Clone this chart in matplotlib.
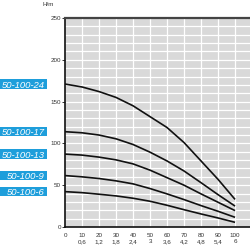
import matplotlib
matplotlib.use('Agg')
import matplotlib.pyplot as plt
from matplotlib.patches import Rectangle
from matplotlib.transforms import blended_transform_factory

# flow (x axis, upper row) and the second row of tick labels
flow = [0, 10, 20, 30, 40, 50, 60, 70, 80, 90, 100]
flow_row2 = ['', '0,6', '1,2', '1,8', '2,4', '3', '3,6', '4,2', '4,8', '5,4', '6']

# head curves H/m read at each flow step
names = ['50-100-24', '50-100-17', '50-100-13', '50-100-9', '50-100-6']
head_24 = [171, 167.5, 162, 155, 145, 132, 119, 101, 79, 57, 33]
head_17 = [114, 112.7, 110, 105.5, 98.7, 89.5, 79, 67, 53, 38.7, 25]
head_13 = [87.2, 86, 83.6, 80.3, 75.5, 68, 59, 50, 39.6, 29.6, 19.6]
head_9 = [61.5, 60, 58, 55.2, 51.6, 46, 39.6, 32.8, 25.6, 18.8, 11.6]
head_6 = [42.3, 41.1, 39.2, 37.2, 34.4, 30.8, 26, 20.7, 15.6, 10.8, 5.6]
heads = [head_24, head_17, head_13, head_9, head_6]

y_ticks = [0, 50, 100, 150, 200, 250]

plt.rcParams['font.family'] = ['Liberation Sans', 'DejaVu Sans']

fig = plt.figure(figsize=(2.5, 2.5), dpi=100)
ax = fig.add_axes([0.26, 0.092, 0.74, 0.836])
ax.set_facecolor('#d9d9d9')

ax.set_xlim(0, 108.8)
ax.set_ylim(0, 250)

# white grid every 10 units
for v in range(10, 250, 10):
    ax.axhline(v, color='white', lw=0.9, zorder=1)
for v in range(10, 110, 10):
    ax.axvline(v, color='white', lw=0.9, zorder=1)

for h in heads:
    ax.plot(flow, h, color='#111111', lw=1.2, zorder=3, solid_capstyle='butt')

ax.spines['right'].set_visible(False)
ax.spines['top'].set_color('#444444')
ax.spines['top'].set_linewidth(1.6)
ax.spines['left'].set_color('#111111')
ax.spines['left'].set_linewidth(1.2)
ax.spines['bottom'].set_color('#111111')
ax.spines['bottom'].set_linewidth(1.2)

ax.set_yticks(y_ticks)
ax.set_yticklabels([str(t) for t in y_ticks])
ax.tick_params(axis='y', length=2.5, width=0.6, pad=0.5, labelsize=4.5,
               labelcolor='#333333', color='#111111')

ax.set_xticks(flow)
xlabels = [str(f) if r == '' else '%d\n%s' % (f, r) for f, r in zip(flow, flow_row2)]
ax.set_xticklabels(xlabels, linespacing=1.35, va='top')
ax.tick_params(axis='x', length=0, pad=4, labelsize=4.5, labelcolor='#333333')

fig.text(48.5 / 250, 1 - 5 / 250, 'H/m', fontsize=4.5, color='#333333',
         ha='center', va='center')

# blue name boxes aligned with each curve's start
tr = blended_transform_factory(fig.transFigure, ax.transData)
box_h = 9.3 / 0.834
for name, h in zip(names, heads):
    fig.patches.append(Rectangle((0, h[0] - box_h / 2), 46.7 / 250, box_h,
                                 transform=tr, facecolor='#1e9edb',
                                 edgecolor='none', zorder=2))
    fig.text(45 / 250, h[0], name, transform=tr, fontsize=6.8, style='italic',
             color='white', ha='right', va='center_baseline', zorder=3)

fig.savefig('out.png', dpi=100)
